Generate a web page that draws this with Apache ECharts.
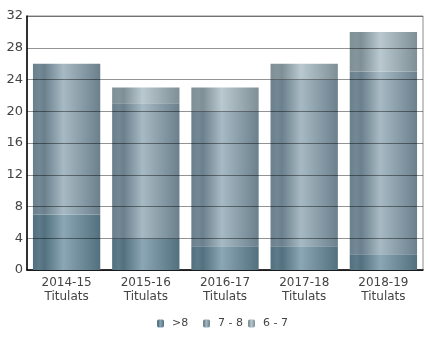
<!DOCTYPE html>
<html><head><meta charset="utf-8">
<script src="https://cdn.jsdelivr.net/npm/echarts@6/dist/echarts.min.js"></script>
<style>html,body{margin:0;padding:0;background:#fff}#c{width:430px;height:348px}</style>
</head><body><div id="c"></div>
<script>
const categories = ['2014-15\nTitulats','2015-16\nTitulats','2016-17\nTitulats','2017-18\nTitulats','2018-19\nTitulats'];
const seriesNames = ['>8','7 - 8','6 - 7'];
const over8 = [7,4,3,3,2];
const from7to8 = [19,17,17,21,23];
const from6to7 = [null,2,3,2,5];
const yTicks = {min:0,max:32,interval:4};

function grad(edge, mid, dip){
  return {type:'linear',x:0,y:0,x2:1,y2:0,colorStops:[
    {offset:0,color:edge},{offset:0.1,color:dip},{offset:0.17,color:edge},
    {offset:0.45,color:mid},{offset:1,color:edge}]};
}
const colors = [
  grad('#52707f','#8ba6b4','#5d7a89'),
  grad('#6a808c','#a7bac4','#738894'),
  grad('#7e8f96','#b9c9cf','#85959b')
];
const data = [over8, from7to8, from6to7];
const legendLefts = [157, 203, 248];
const chart = echarts.init(document.getElementById('c'));
chart.setOption({
  animation:false,
  textStyle:{fontFamily:'DejaVu Sans'},
  grid:{left:27,right:7,top:16,bottom:78,show:true,borderColor:'#8c8c8c',borderWidth:1},
  legend: seriesNames.map((n,i)=>({bottom:19,left:legendLefts[i],itemWidth:7,itemHeight:8,padding:0,
    textStyle:{fontSize:11,color:'#444',padding:[0,0,0,3]},data:[n]})),
  xAxis:{type:'category',data:categories,
    axisLine:{lineStyle:{color:'#000',width:1.5}},axisTick:{show:false},
    axisLabel:{fontSize:12,color:'#444',lineHeight:14,margin:6}},
  yAxis:{type:'value',min:yTicks.min,max:yTicks.max,interval:yTicks.interval,z:10,
    axisLine:{show:true,lineStyle:{color:'#000',width:1.5}},axisTick:{show:false},
    axisLabel:{fontSize:13,color:'#444',margin:4},
    splitLine:{lineStyle:{color:'rgba(0,0,0,0.42)',width:1}}},
  series: seriesNames.map((n,i)=>({name:n,type:'bar',stack:'t',data:data[i],
    barCategoryGap:'15%',itemStyle:{color:colors[i],borderWidth:0}}))
});
</script></body></html>
